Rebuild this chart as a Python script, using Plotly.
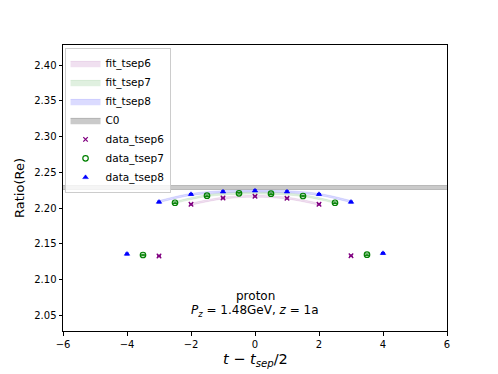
import plotly.graph_objects as go

# ---- data ----
tsep6_x = [-3, -2, -1, 0, 1, 2, 3]
tsep6_y = [2.1329, 2.2052, 2.2140, 2.2164, 2.2136, 2.2052, 2.1333]
tsep6_err = [0.0010] * 7

tsep7_x = [-3.5, -2.5, -1.5, -0.5, 0.5, 1.5, 2.5, 3.5]
tsep7_y = [2.1343, 2.2074, 2.2172, 2.2206, 2.2200, 2.2168, 2.2074, 2.1347]
tsep7_err = [0.0010] * 8

tsep8_x = [-4, -3, -2, -1, 0, 1, 2, 3, 4]
tsep8_y = [2.1357, 2.2084, 2.2192, 2.2228, 2.2242, 2.2228, 2.2192, 2.2084, 2.1367]
tsep8_err = [0.0012] * 9

fit6_x = [-2, -1, 0, 1, 2]
fit6_lo = [2.2040, 2.2126, 2.2150, 2.2126, 2.2040]
fit6_hi = [2.2068, 2.2152, 2.2176, 2.2152, 2.2068]

fit7_x = [-2.5, -1.5, -0.5, 0.5, 1.5, 2.5]
fit7_lo = [2.2066, 2.2160, 2.2192, 2.2192, 2.2160, 2.2066]
fit7_hi = [2.2092, 2.2186, 2.2218, 2.2218, 2.2186, 2.2092]

fit8_x = [-3, -2, -1, 0, 1, 2, 3]
fit8_lo = [2.2076, 2.2176, 2.2214, 2.2224, 2.2214, 2.2176, 2.2076]
fit8_hi = [2.2104, 2.2204, 2.2242, 2.2252, 2.2242, 2.2204, 2.2104]

c0_x = [-6, 6]
c0_lo = [2.2259, 2.2259]
c0_hi = [2.2315, 2.2315]

x_ticks = [-6, -4, -2, 0, 2, 4, 6]
y_ticks = [2.05, 2.10, 2.15, 2.20, 2.25, 2.30, 2.35, 2.40]

# ---- figure ----
fig = go.Figure()

def band(x, lo, hi, name, fillcol, linecol, shape="spline"):
    fig.add_trace(go.Scatter(x=x, y=lo, mode="lines", line=dict(color=linecol, width=0.8, shape=shape),
                             showlegend=False, hoverinfo="skip"))
    fig.add_trace(go.Scatter(x=x, y=hi, mode="lines", line=dict(color=linecol, width=0.8, shape=shape),
                             fill="tonexty", fillcolor=fillcol, name=name))

band(fit6_x, fit6_lo, fit6_hi, "fit_tsep6", "rgba(128,0,128,0.12)", "rgba(128,0,128,0.12)")
band(fit7_x, fit7_lo, fit7_hi, "fit_tsep7", "rgba(0,128,0,0.12)", "rgba(0,128,0,0.12)")
band(fit8_x, fit8_lo, fit8_hi, "fit_tsep8", "rgba(0,0,255,0.14)", "rgba(0,0,255,0.14)")
band(c0_x, c0_lo, c0_hi, "C0", "rgba(150,150,150,0.5)", "rgba(120,120,120,0.5)", shape="linear")

def data(x, y, err, name, col, symbol, size, lw):
    fig.add_trace(go.Scatter(
        x=x, y=y, mode="markers", name=name,
        marker=dict(symbol=symbol, color=col, size=size,
                    line=dict(color=col, width=lw)),
        error_y=dict(type="data", array=err, color=col, thickness=1, width=2),
    ))

data(tsep6_x, tsep6_y, tsep6_err, "data_tsep6", "purple", "x-thin", 4.5, 1.3)
data(tsep7_x, tsep7_y, tsep7_err, "data_tsep7", "green", "circle-open", 5.5, 1.2)
data(tsep8_x, tsep8_y, tsep8_err, "data_tsep8", "blue", "triangle-up", 5, 0.5)

fig.add_annotation(x=0, y=2.0770, xref="x", yref="y", text="proton",
                   showarrow=False, font=dict(size=12, color="black"))
fig.add_annotation(x=0, y=2.0560, xref="x", yref="y",
                   text="<i>P</i><sub><i>z</i></sub> = 1.48GeV, <i>z</i> = 1a",
                   showarrow=False, font=dict(size=12, color="black"))

# axis titles
fig.add_annotation(x=0.5, y=-0.062, xref="paper", yref="paper", yanchor="top",
                   text="<i>t</i> − <i>t</i><sub><i>sep</i></sub>/2",
                   showarrow=False, font=dict(size=14.5, color="black"))
fig.add_annotation(x=-0.1146, y=0.5, xref="paper", yref="paper", xanchor="center",
                   text="Ratio(Re)", textangle=-90,
                   showarrow=False, font=dict(size=13, color="black"))

fig.update_layout(
    width=498, height=374,
    margin=dict(l=63, r=51, t=45, b=43, autoexpand=False),
    paper_bgcolor="white", plot_bgcolor="white",
    font=dict(family="DejaVu Sans", color="black"),
    legend=dict(x=0.004, y=0.99, xanchor="left", yanchor="top", traceorder="normal",
                bgcolor="rgba(255,255,255,0.8)", bordercolor="#cccccc", borderwidth=1,
                font=dict(size=10.5), tracegroupgap=0, itemwidth=30),
    xaxis=dict(range=[-6, 6], tickvals=x_ticks, ticktext=[("−" if v < 0 else "") + str(abs(v)) for v in x_ticks],
               showgrid=False, zeroline=False, showline=True, mirror=True, linecolor="black", linewidth=1,
               ticks="outside", ticklen=3.5, tickcolor="black", tickfont=dict(size=10), automargin=False),
    yaxis=dict(range=[2.028, 2.428], tickvals=y_ticks, ticktext=[f"{v:.2f}" for v in y_ticks],
               showgrid=False, zeroline=False, showline=True, mirror=True, linecolor="black", linewidth=1,
               ticks="outside", ticklen=3.5, tickcolor="black", tickfont=dict(size=10), automargin=False),
)

fig.write_html("out.html", config={"displayModeBar": False},
               post_script="document.body.style.margin='0';document.body.style.overflow='hidden';")
